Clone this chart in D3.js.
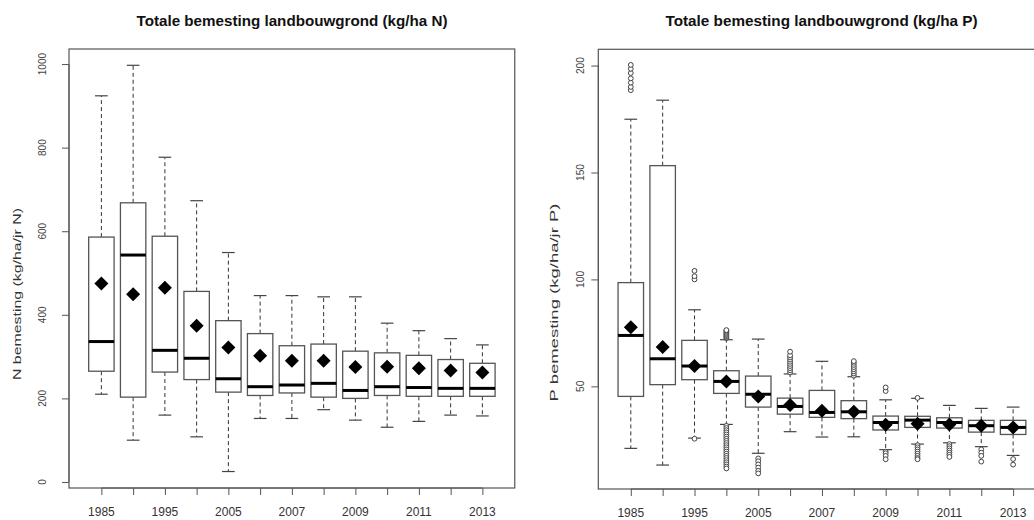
<!DOCTYPE html>
<html>
<head>
<meta charset="utf-8">
<script src="https://cdnjs.cloudflare.com/ajax/libs/d3/7.8.5/d3.min.js"></script>
<style>
  html, body { margin: 0; padding: 0; background: #fff; }
  svg { display: block; font-family: "Liberation Sans", Arial, sans-serif; }
</style>
</head>
<body>
<svg id="chart" width="1034" height="520"></svg>
<script>
// Years along the x axis (one box per year)
const years = ["1985","1990","1995","2000","2005","2006","2007","2008","2009","2010","2011","2012","2013"];
// Only these year labels are printed under the ticks
const shownYears = ["1985","1995","2005","2007","2009","2011","2013"];

// Nitrogen (kg/ha/jr N): whisker ends, quartiles, median, mean
const nLow    = [210, 100, 160, 108,  25, 152, 152, 173, 148, 131, 145, 160, 158];
const nQ1     = [265, 203, 263, 245, 215, 207, 213, 203, 200, 207, 205, 205, 205];
const nMedian = [336, 543, 315, 296, 247, 228, 232, 236, 219, 228, 226, 224, 224];
const nQ3     = [586, 668, 588, 456, 386, 355, 326, 330, 313, 309, 303, 293, 284];
const nHigh   = [924, 997, 777, 673, 549, 446, 446, 443, 443, 380, 362, 343, 328];
const nMean   = [475, 449, 465, 374, 322, 302, 290, 290, 275, 276, 272, 267, 262];
const nTicks  = [0, 200, 400, 600, 800, 1000];

// Phosphate (kg/ha/jr P)
const pLow    = [21.0, 13.2, 25.8, 32.2, 18.7, 28.8, 26.3, 26.4, 20.4, 23.0, 23.6, 21.8, 17.7];
const pQ1     = [45.3, 50.8, 53.1, 46.7, 40.3, 37.0, 35.5, 34.9, 29.6, 30.8, 30.5, 28.6, 27.5];
const pMedian = [73.8, 62.9, 59.5, 52.3, 46.3, 40.6, 37.8, 38.1, 33.1, 34.2, 33.1, 31.6, 30.8];
const pQ3     = [98.5, 153.2, 71.5, 57.3, 54.8, 44.5, 48.1, 43.3, 36.1, 36.0, 35.3, 34.1, 34.1];
const pHigh   = [174.9, 183.8, 85.8, 71.8, 72.1, 55.8, 61.7, 54.5, 43.7, 44.4, 41.1, 39.7, 40.3];
const pMean   = [77.6, 68.4, 59.5, 52.3, 45.3, 41.3, 38.6, 38.1, 32.0, 32.5, 32.2, 31.6, 30.8];
const pOutliers = [
  [188.5, 190.0, 192.0, 194.0, 196.5, 198.5, 200.3],
  [],
  [25.5, 100.0, 101.5, 104.0],
  [72.5, 73.0, 73.5, 74.0, 74.5, 75.0, 75.5, 76.0, 76.3,
   31.5, 30.5, 29.5, 28.5, 27.5, 26.5, 25.5, 24.5, 23.5, 22.5, 21.5, 20.5,
   19.5, 18.5, 17.5, 16.5, 15.5, 14.5, 13.5, 12.5, 11.6],
  [16.3, 15.0, 13.5, 12.0, 10.5, 9.3],
  [56.5, 57.5, 58.5, 59.5, 60.5, 61.5, 62.5, 63.5, 64.5, 66.2],
  [],
  [55.0, 56.0, 57.0, 58.0, 59.0, 60.0, 61.0, 61.8],
  [47.8, 49.5, 19.5, 18.7, 17.5, 15.9],
  [44.6, 22.5, 21.5, 20.5, 19.5, 18.5, 17.5, 16.5, 15.9],
  [23.0, 22.0, 21.0, 20.0, 19.0, 18.0, 17.0],
  [20.5, 19.0, 17.5, 14.8],
  [16.0, 13.4]
];
const pTicks = [50, 100, 150, 200];

const svg = d3.select("#chart");

function drawPanel(o) {
  const g = svg.append("g");
  const n = years.length;
  // boxes sit at 1..n; the x range is padded the way R's boxplot pads it
  const x = d3.scaleLinear().domain([-0.02, n + 1.02]).range([o.left, o.left + (n + 1.04) * o.step]);
  const y = d3.scaleLinear().domain(o.yDomain).range([o.bottom, o.top]);
  const half = x(1.4) - x(1);
  const cap = x(1.2) - x(1);

  const rows = years.map((yr, i) => ({
    yr, i: i + 1, lo: o.low[i], q1: o.q1[i], med: o.median[i], q3: o.q3[i],
    hi: o.high[i], mean: o.mean[i], out: o.outliers ? o.outliers[i] : []
  }));

  const box = g.selectAll("g.box").data(rows).join("g").attr("class", "box");
  // whiskers
  box.append("line")
    .attr("x1", d => x(d.i)).attr("x2", d => x(d.i))
    .attr("y1", d => y(d.q3)).attr("y2", d => y(d.hi))
    .attr("stroke", "#333").attr("stroke-dasharray", "4,3");
  box.append("line")
    .attr("x1", d => x(d.i)).attr("x2", d => x(d.i))
    .attr("y1", d => y(d.q1)).attr("y2", d => y(d.lo))
    .attr("stroke", "#333").attr("stroke-dasharray", "4,3");
  // staples
  box.append("line")
    .attr("x1", d => x(d.i) - cap).attr("x2", d => x(d.i) + cap)
    .attr("y1", d => y(d.hi)).attr("y2", d => y(d.hi))
    .attr("stroke", "#444").attr("stroke-width", 1.2);
  box.append("line")
    .attr("x1", d => x(d.i) - cap).attr("x2", d => x(d.i) + cap)
    .attr("y1", d => y(d.lo)).attr("y2", d => y(d.lo))
    .attr("stroke", "#444").attr("stroke-width", 1.2);
  // boxes
  box.append("rect")
    .attr("x", d => x(d.i) - half).attr("width", half * 2)
    .attr("y", d => y(d.q3)).attr("height", d => y(d.q1) - y(d.q3))
    .attr("fill", "#fff").attr("stroke", "#555").attr("stroke-width", 1.3);
  // medians
  box.append("line")
    .attr("x1", d => x(d.i) - half).attr("x2", d => x(d.i) + half)
    .attr("y1", d => y(d.med)).attr("y2", d => y(d.med))
    .attr("stroke", "#000").attr("stroke-width", 3);
  // outliers
  box.selectAll("circle").data(d => d.out.map(v => ({ i: d.i, v })))
    .join("circle")
    .attr("cx", d => x(d.i)).attr("cy", d => y(d.v)).attr("r", 2.4)
    .attr("fill", "#fff").attr("stroke", "#444").attr("stroke-width", 1);
  // means as filled diamonds
  const r = 7;
  box.append("path")
    .attr("d", d => {
      const cx = x(d.i), cy = y(d.mean);
      return `M${cx},${cy - r}L${cx + r},${cy}L${cx},${cy + r}L${cx - r},${cy}Z`;
    })
    .attr("fill", "#000");

  // frame
  g.append("rect")
    .attr("x", o.left).attr("y", o.top)
    .attr("width", (n + 1.04) * o.step).attr("height", o.bottom - o.top)
    .attr("fill", "none").attr("stroke", "#555").attr("stroke-width", 1.2);

  // y axis
  const ya = g.append("g").attr("transform", `translate(${o.left},0)`)
    .call(d3.axisLeft(y).tickValues(o.yTicks).tickSize(7).tickFormat(""));
  ya.select(".domain").remove();
  ya.selectAll(".tick line").attr("stroke", "#555");
  g.append("line")
    .attr("x1", o.left).attr("x2", o.left)
    .attr("y1", y(o.yTicks[0])).attr("y2", y(o.yTicks[o.yTicks.length - 1]))
    .attr("stroke", "#555");
  g.selectAll("text.ytick").data(o.yTicks).join("text")
    .attr("class", "ytick")
    .attr("transform", d => `translate(${o.yTickX},${y(d)}) rotate(-90)`)
    .attr("dy", "0.36em").attr("text-anchor", "middle")
    .attr("font-size", o.yTickFont).attr("fill", "#444")
    .attr("textLength", d => String(d).length * o.yDigit)
    .attr("lengthAdjust", "spacingAndGlyphs")
    .text(d => d);

  // x axis
  const xa = g.append("g").attr("transform", `translate(0,${o.bottom})`)
    .call(d3.axisBottom(x).tickValues(rows.map(d => d.i)).tickSize(7).tickFormat(""));
  xa.select(".domain").remove();
  xa.selectAll(".tick line").attr("stroke", "#555");
  g.append("line")
    .attr("x1", x(1)).attr("x2", x(n))
    .attr("y1", o.bottom).attr("y2", o.bottom).attr("stroke", "#555");
  g.selectAll("text.xtick").data(rows.filter(d => shownYears.includes(d.yr))).join("text")
    .attr("class", "xtick")
    .attr("x", d => x(d.i)).attr("y", o.xTickY)
    .attr("text-anchor", "middle")
    .attr("font-size", o.xTickFont).attr("fill", "#333")
    .text(d => d.yr);

  // y label
  g.append("text")
    .attr("transform", `translate(${o.yLabX},${o.yLabY}) rotate(-90)`)
    .attr("text-anchor", "middle").attr("dy", "0.36em")
    .attr("font-size", o.yLabFont).attr("fill", "#333")
    .attr("textLength", o.yLabLen).attr("lengthAdjust", "spacingAndGlyphs")
    .text(o.yLabel);

  // title
  g.append("text")
    .attr("x", o.titleX).attr("y", 26)
    .attr("text-anchor", "middle")
    .attr("font-size", 15).attr("font-weight", "bold").attr("fill", "#111")
    .attr("textLength", o.titleLen).attr("lengthAdjust", "spacingAndGlyphs")
    .text(o.title);
}

drawPanel({
  left: 69, step: 31.75, top: 49, bottom: 488,
  yDomain: [-14.4, 1036], yTicks: nTicks,
  low: nLow, q1: nQ1, median: nMedian, q3: nQ3, high: nHigh, mean: nMean, outliers: null,
  yTickX: 42, yTickFont: 11, yDigit: 5.6,
  xTickY: 516, xTickFont: 12,
  yLabX: 17, yLabY: 294, yLabFont: 11, yLabLen: 172,
  yLabel: "N bemesting (kg/ha/jr N)",
  titleX: 292, titleLen: 311,
  title: "Totale bemesting landbouwgrond (kg/ha N)"
});

drawPanel({
  left: 598.3, step: 31.86, top: 49.3, bottom: 489,
  yDomain: [2.0, 207.6], yTicks: pTicks,
  low: pLow, q1: pQ1, median: pMedian, q3: pQ3, high: pHigh, mean: pMean, outliers: pOutliers,
  yTickX: 580, yTickFont: 11, yDigit: 5.7,
  xTickY: 516.7, xTickFont: 12,
  yLabX: 554, yLabY: 302.5, yLabFont: 11.5, yLabLen: 198,
  yLabel: "P bemesting (kg/ha/jr P)",
  titleX: 821.5, titleLen: 312,
  title: "Totale bemesting landbouwgrond (kg/ha P)"
});
</script>
</body>
</html>
